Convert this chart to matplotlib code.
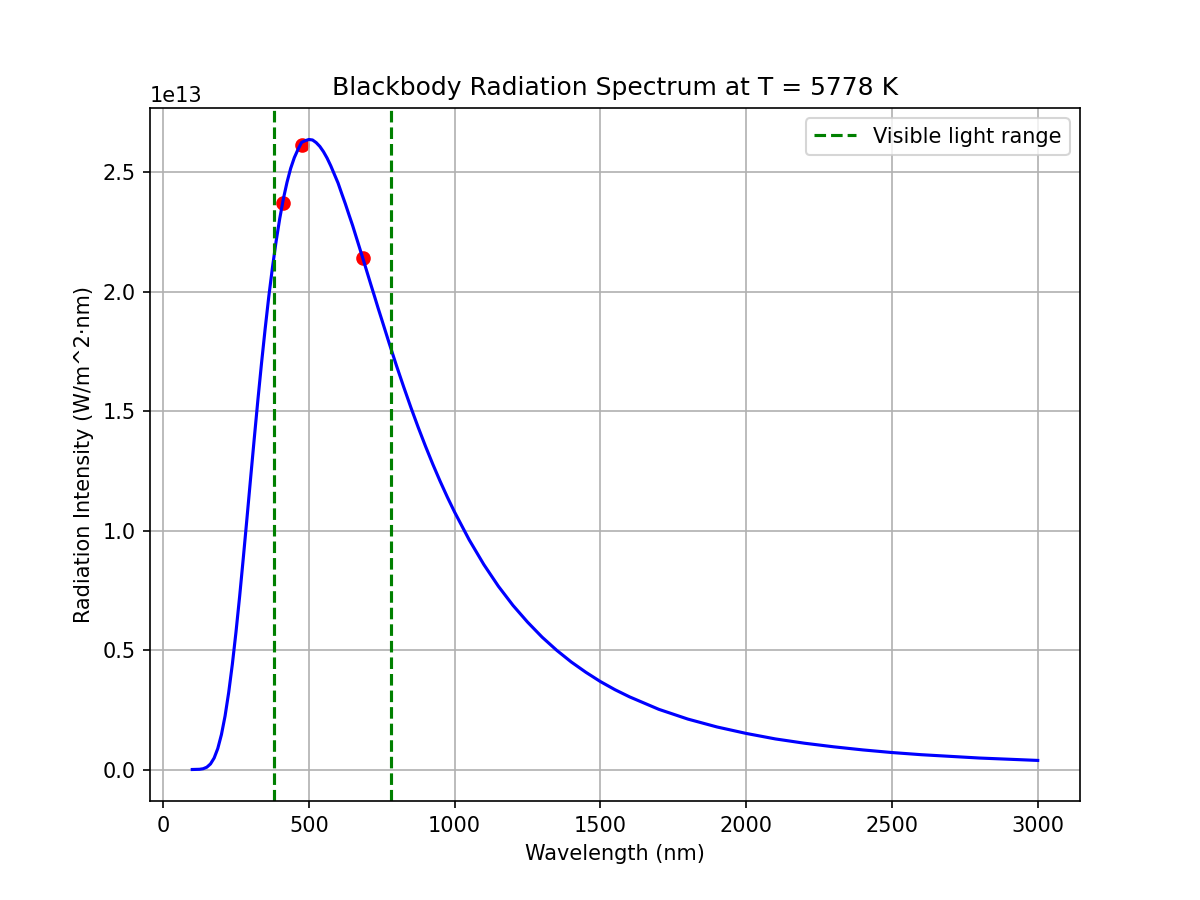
import numpy as np
import matplotlib
matplotlib.use("Agg")
import matplotlib.pyplot as plt

# values (intensity in units of 1e13)
wavelengths = [100, 125, 137.5, 150, 162.5, 175, 187.5, 200, 212.5, 225,
               237.5, 250, 262.5, 275, 287.5, 300, 312.5, 325, 337.5, 350,
               362.5, 375, 387.5, 400, 412.5, 425, 437.5, 450, 462.5, 475,
               487.5, 500, 512.5, 525, 537.5, 550, 562.5, 575, 587.5, 600,
               612.5, 625, 637.5, 650, 662.5, 675, 687.5, 700, 712.5, 725,
               737.5, 750, 775, 800, 825, 850, 875, 900, 925, 950, 975,
               1000, 1050, 1100, 1150, 1200, 1250, 1300, 1350, 1400, 1450,
               1500, 1550, 1600, 1700, 1800, 1900, 2000, 2100, 2200, 2300,
               2400, 2500, 2600, 2700, 2800, 2900, 3000]
intensity = [0.0, 0.0009, 0.0033, 0.0097, 0.0233, 0.048, 0.0878, 0.146,
             0.224, 0.323, 0.441, 0.576, 0.725, 0.885, 1.050, 1.218, 1.384,
             1.546, 1.700, 1.845, 1.980, 2.101, 2.210, 2.306, 2.389, 2.458,
             2.516, 2.561, 2.595, 2.625, 2.632, 2.637, 2.635, 2.624, 2.608,
             2.586, 2.559, 2.527, 2.491, 2.455, 2.411, 2.368, 2.322, 2.277,
             2.228, 2.179, 2.130, 2.080, 2.030, 1.981, 1.931, 1.883, 1.786,
             1.692, 1.602, 1.515, 1.432, 1.353, 1.278, 1.207, 1.140, 1.077,
             0.961, 0.858, 0.767, 0.687, 0.617, 0.554, 0.499, 0.450, 0.407,
             0.368, 0.334, 0.304, 0.252, 0.211, 0.178, 0.151, 0.128, 0.110,
             0.095, 0.082, 0.071, 0.062, 0.055, 0.048, 0.043, 0.038]

marker_wl = [412, 476, 686]
marker_int = [2.37, 2.615, 2.14]

visible_range = [380, 780]

fig, ax = plt.subplots(figsize=(8, 6), dpi=150)
ax.plot(wavelengths, np.array(intensity) * 1e13, color="blue")
ax.scatter(marker_wl, np.array(marker_int) * 1e13, color="red")
ax.axvline(visible_range[0], color="green", linestyle="--",
           label="Visible light range")
ax.axvline(visible_range[1], color="green", linestyle="--")

ax.set_title("Blackbody Radiation Spectrum at T = 5778 K")
ax.set_xlabel("Wavelength (nm)")
ax.set_ylabel("Radiation Intensity (W/m^2·nm)")
ax.legend()
ax.grid(True)

fig.savefig("out.png")
